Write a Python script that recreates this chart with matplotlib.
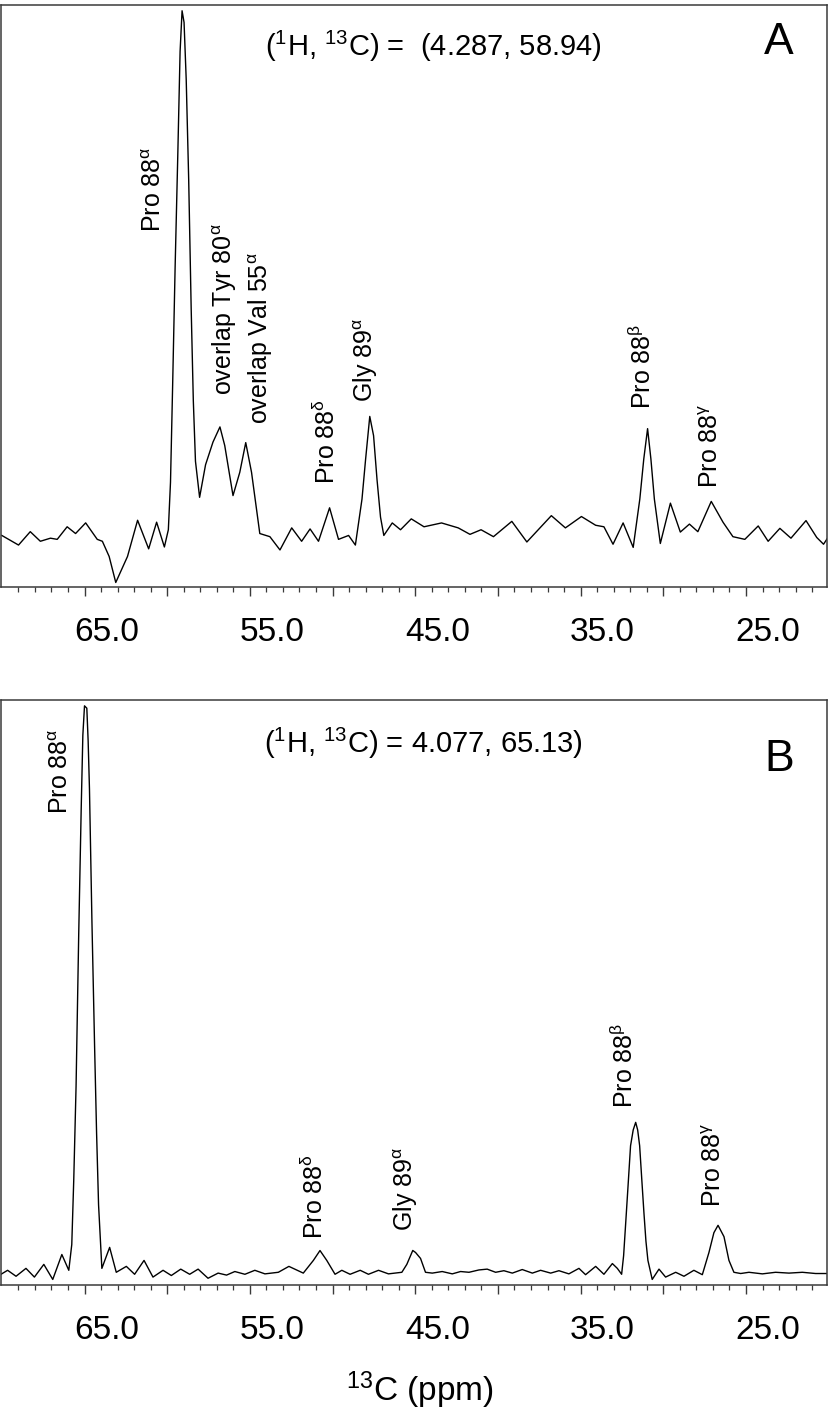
import matplotlib
matplotlib.use("Agg")
import matplotlib.pyplot as plt
import matplotlib.transforms as mtransforms
from matplotlib.ticker import FixedLocator, FuncFormatter

plt.rcParams["font.family"] = ["Liberation Sans", "DejaVu Sans"]
plt.rcParams["mathtext.fontset"] = "custom"
plt.rcParams["mathtext.rm"] = "Liberation Sans"
plt.rcParams["mathtext.it"] = "Liberation Sans:italic"
plt.rcParams["mathtext.default"] = "regular"

# --- espectro A: 1D 13C en (1H, 13C) = (4.287, 58.94) --- (ppm, % de la altura del panel)
ppm_a = [70.00, 68.99, 68.28, 67.67, 67.06, 66.65, 66.05, 65.54, 64.93, 64.23,
         63.92, 63.51, 63.11, 62.40, 61.79, 61.12, 60.64, 60.17, 59.93, 59.80,
         59.67, 59.52, 59.36, 59.22, 59.10, 58.98, 58.85, 58.70, 58.55, 58.42,
         58.29, 58.04, 57.68, 57.23, 56.81, 56.52, 56.02, 55.61, 55.25, 54.90,
         54.40, 53.79, 53.18, 52.47, 51.87, 51.36, 50.85, 50.18, 49.64, 49.03,
         48.62, 48.22, 48.00, 47.75, 47.52, 47.31, 47.10, 46.90, 46.39, 45.89,
         45.24, 44.47, 43.41, 42.40, 41.69, 41.02, 40.27, 39.16, 38.25, 36.77,
         35.92, 34.95, 34.09, 33.59, 33.04, 32.43, 31.82, 31.42, 31.18, 30.95,
         30.75, 30.54, 30.18, 29.57, 28.97, 28.42, 27.91, 27.10, 26.39, 25.79,
         25.07, 24.26, 23.66, 22.95, 22.28, 21.37, 20.72, 20.31, 19.81]
int_a = [8.85, 7.20, 9.50, 7.85, 8.38, 8.18, 10.34, 9.18, 11.01, 8.18,
         7.85, 5.24, 0.77, 5.24, 11.46, 6.55, 11.13, 6.87, 9.83, 18.0,
         34.7, 55.0, 74.1, 92.0, 99.0, 97.0, 87.2, 70.0, 47.9, 32.0,
         21.6, 15.4, 21.0, 24.9, 27.5, 24.3, 15.7, 19.7, 24.8, 19.7,
         9.18, 8.64, 6.36, 10.15, 7.85, 9.97, 7.85, 13.6, 8.18, 8.85,
         7.20, 15.1, 22.0, 29.3, 26.0, 18.4, 12.0, 8.85, 11.0, 9.83,
         11.7, 10.34, 11.0, 10.15, 9.04, 9.83, 8.64, 11.27, 7.73, 12.25,
         10.15, 12.1, 10.6, 10.34, 7.34, 11.0, 6.80, 15.1, 22.0, 27.2,
         22.0, 15.1, 7.47, 14.4, 9.43, 10.8, 9.50, 14.7, 11.13, 8.64,
         8.18, 10.48, 7.85, 10.07, 8.38, 11.4, 8.50, 7.34, 9.50]

# --- espectro B: (1H, 13C) = 4.077, 65.13 ---
ppm_b = [70.05, 69.65, 69.14, 68.54, 68.03, 67.46, 66.92, 66.37, 65.95, 65.77,
         65.65, 65.51, 65.35, 65.20, 65.10, 65.00, 64.86, 64.78, 64.70, 64.55,
         64.39, 64.27, 64.15, 63.95, 63.48, 63.08, 62.47, 61.97, 61.40, 60.86,
         60.25, 59.75, 59.18, 58.64, 58.13, 57.53, 56.92, 56.41, 55.91, 55.30,
         54.70, 54.09, 53.28, 52.64, 51.77, 51.16, 50.76, 50.35, 49.85, 49.44,
         48.94, 48.33, 47.83, 47.22, 46.62, 45.81, 45.51, 45.15, 44.98, 44.68,
         44.38, 43.97, 43.37, 42.76, 42.26, 41.75, 41.15, 40.65, 40.14, 39.64,
         39.13, 38.53, 37.92, 37.42, 36.81, 36.31, 35.71, 35.10, 34.70, 34.09,
         33.59, 33.08, 32.78, 32.52, 32.40, 32.28, 32.13, 31.98, 31.82, 31.67,
         31.55, 31.43, 31.30, 31.17, 31.05, 30.93, 30.67, 30.26, 29.86, 29.25,
         28.75, 28.15, 27.64, 27.24, 26.94, 26.69, 26.33, 26.03, 25.73, 25.32,
         24.82, 24.01, 23.21, 22.40, 21.59, 20.79, 19.98]
int_b = [1.83, 2.51, 1.49, 2.84, 1.35, 3.52, 0.95, 5.21, 2.51, 6.91,
         18.0, 34.0, 60.0, 81.4, 94.0, 99.0, 98.6, 93.0, 84.8, 62.0,
         40.8, 26.0, 13.7, 2.84, 6.43, 2.17, 3.18, 1.83, 4.20, 1.35,
         2.51, 1.62, 2.71, 1.83, 2.71, 1.15, 2.03, 1.69, 2.30, 1.83,
         2.51, 1.90, 2.17, 3.18, 2.03, 4.20, 5.89, 4.20, 1.83, 2.51,
         1.83, 2.51, 1.83, 2.51, 1.90, 2.17, 3.52, 5.90, 5.55, 4.54,
         2.17, 2.03, 2.30, 1.90, 2.30, 2.17, 2.57, 2.71, 2.17, 2.44,
         2.03, 2.64, 2.03, 2.51, 2.03, 2.44, 1.90, 2.84, 1.76, 3.18,
         1.83, 3.66, 2.84, 1.83, 5.00, 10.3, 17.0, 23.8, 26.5, 27.8,
         26.5, 23.8, 18.0, 12.3, 7.50, 4.20, 0.95, 2.71, 1.35, 2.17,
         1.49, 2.51, 1.76, 5.55, 8.94, 10.2, 8.26, 4.20, 2.17, 1.96,
         2.17, 1.90, 2.17, 2.03, 2.17, 1.96, 1.96]

# etiquetas de asignación: texto, ppm, altura (%) del pie del texto
labels_a = [r"Pro 88$^{\alpha}$", r"overlap Tyr 80$^{\alpha}$", r"overlap Val 55$^{\alpha}$",
            r"Pro 88$^{\delta}$", r"Gly 89$^{\alpha}$", r"Pro 88$^{\beta}$", r"Pro 88$^{\gamma}$"]
label_ppm_a = [60.79, 56.53, 54.36, 50.37, 48.02, 31.26, 27.13]
label_y_a = [61.0, 33.0, 28.0, 17.7, 31.8, 30.5, 17.0]

labels_b = [r"Pro 88$^{\alpha}$", r"Pro 88$^{\delta}$", r"Gly 89$^{\alpha}$",
            r"Pro 88$^{\beta}$", r"Pro 88$^{\gamma}$"]
label_ppm_b = [66.44, 51.1, 45.6, 32.32, 26.94]
label_y_b = [80.5, 7.9, 9.3, 30.3, 13.3]

header_a = r"($^{1}$H, $^{13}$C) =  (4.287, 58.94)"
header_b = r"($^{1}$H, $^{13}$C) = 4.077, 65.13)"

major_ticks = [65, 60, 55, 50, 45, 40, 35, 30, 25]
minor_ticks = [v for v in range(20, 71) if v % 5]

fig = plt.figure(figsize=(8.29, 14.13), dpi=100)
ax_a = fig.add_axes([0.0012, 0.5846, 0.9964, 0.4119])
ax_b = fig.add_axes([0.0012, 0.0906, 0.9964, 0.4140])

shift = mtransforms.ScaledTranslation(22 / 100, 0, fig.dpi_scale_trans)

def style(ax):
    ax.set_xlim(70.05, 20.1)
    ax.set_ylim(0, 100)
    for s in ax.spines.values():
        s.set_color("#3a3a3a")
        s.set_linewidth(1.1)
    ax.set_yticks([])
    ax.xaxis.set_major_locator(FixedLocator(major_ticks))
    ax.xaxis.set_minor_locator(FixedLocator(minor_ticks))
    ax.xaxis.set_major_formatter(FuncFormatter(lambda v, p: f"{v:.1f}" if v % 10 == 5 else ""))
    ax.tick_params(axis="x", which="major", direction="out", length=6.5, width=1.0,
                   color="#3a3a3a", labelsize=24, pad=15)
    ax.tick_params(axis="x", which="minor", direction="out", length=3.5, width=0.9,
                   color="#3a3a3a")
    for lab in ax.get_xticklabels():
        lab.set_transform(lab.get_transform() + shift)

for ax, px, iy, labs, lx, ly, head, hx, hy, letter, ly_letter in [
        (ax_a, ppm_a, int_a, labels_a, label_ppm_a, label_y_a, header_a, 0.523, 0.928, "A", 0.936),
        (ax_b, ppm_b, int_b, labels_b, label_ppm_b, label_y_b, header_b, 0.512, 0.925, "B", 0.898)]:
    ax.plot(px, iy, color="black", lw=1.0, solid_joinstyle="round")
    style(ax)
    for t, x, y in zip(labs, lx, ly):
        ax.text(x, y, t, rotation=90, ha="center", va="bottom", fontsize=18)
    ax.text(hx, hy, head, transform=ax.transAxes, ha="center", va="center", fontsize=21)
    ax.text(0.942, ly_letter, letter, transform=ax.transAxes, ha="center", va="center", fontsize=32)

fig.text(0.506, 0.016, r"$^{13}$C (ppm)", ha="center", va="center", fontsize=24)

fig.savefig("out.png", dpi=100, facecolor="white")
